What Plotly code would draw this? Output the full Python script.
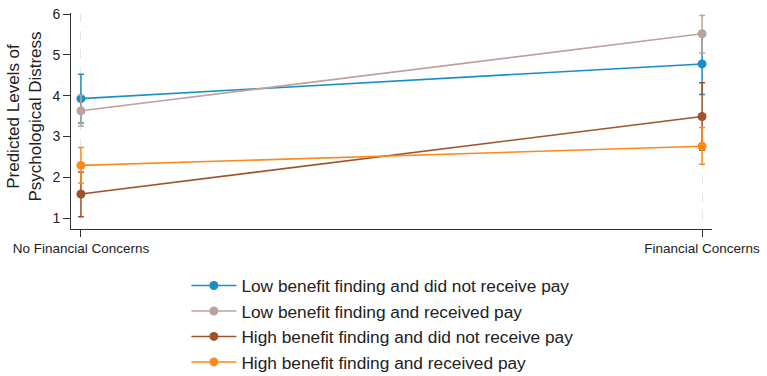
import plotly.graph_objects as go

categories = ["No Financial Concerns", "Financial Concerns"]
x_pos = [0, 1]
series_names = [
    "Low benefit finding and did not receive pay",
    "Low benefit finding and received pay",
    "High benefit finding and did not receive pay",
    "High benefit finding and received pay",
]
means = [
    [3.93, 4.78],
    [3.63, 5.52],
    [1.59, 3.49],
    [2.29, 2.76],
]
ci_upper = [
    [4.53, 5.53],
    [4.01, 5.97],
    [2.13, 4.32],
    [2.73, 3.22],
]
ci_lower = [
    [3.33, 4.03],
    [3.26, 5.05],
    [1.03, 2.66],
    [1.86, 2.32],
]
colors = ["#1a8ec3", "#bba39d", "#a0522d", "#fd8a1c"]
yticks = [1, 2, 3, 4, 5, 6]
y_title = "Predicted Levels of<br>Psychological Distress"

fig = go.Figure()
for i, name in enumerate(series_names):
    up = [u - m for u, m in zip(ci_upper[i], means[i])]
    lo = [m - l for l, m in zip(ci_lower[i], means[i])]
    fig.add_trace(go.Scatter(
        x=x_pos, y=means[i], name=name, mode="lines+markers",
        line=dict(color=colors[i], width=1.6),
        marker=dict(color=colors[i], size=9),
        error_y=dict(type="data", array=up, arrayminus=lo, symmetric=False,
                     color=colors[i], thickness=1.5, width=3),
    ))

fig.add_annotation(
    text=y_title, xref="paper", yref="paper", x=-0.072, y=0.52,
    xanchor="center", yanchor="middle", textangle=-90, showarrow=False,
    font=dict(size=17, color="#222222"),
)

fig.update_layout(
    width=767, height=376,
    margin=dict(l=71, r=55, t=13, b=147, autoexpand=False),
    paper_bgcolor="white", plot_bgcolor="white",
    font=dict(family="Liberation Sans, Arial, sans-serif", color="#222222"),
    showlegend=True,
    legend=dict(
        xref="container", yref="container",
        x=0.243, y=0.288, xanchor="left", yanchor="top",
        font=dict(size=17.3, color="#222222"),
        itemwidth=45,
        tracegroupgap=0,
        bgcolor="rgba(0,0,0,0)",
    ),
    xaxis=dict(
        range=[-0.016, 1.016], tickvals=x_pos, ticktext=categories,
        showline=True, linecolor="#333333", linewidth=1,
        ticks="outside", ticklen=7, tickcolor="#333333",
        showgrid=True, gridcolor="#e4e4e4", griddash="dash", gridwidth=1,
        zeroline=False, tickfont=dict(size=13.5),
    ),
    yaxis=dict(
        range=[0.73, 6.03], tickvals=yticks,
        showline=True, linecolor="#333333", linewidth=1,
        ticks="outside", ticklen=7, tickcolor="#333333",
        showgrid=False, zeroline=False, tickfont=dict(size=14),
    ),
)

fig.write_html("out.html")
